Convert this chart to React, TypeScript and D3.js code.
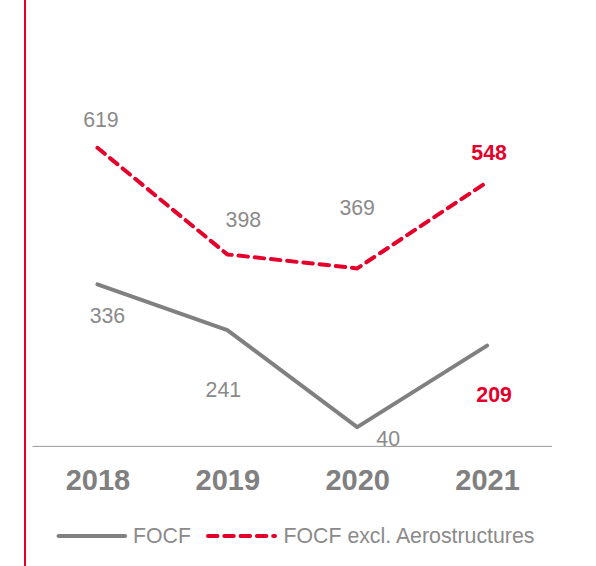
import React from "react";
import * as d3 from "d3";

const years = ["2018", "2019", "2020", "2021"];
const focf = [336, 241, 40, 209];
const focfExcl = [619, 398, 369, 548];
const legendLabels = ["FOCF", "FOCF excl. Aerostructures"];

// label offsets relative to points (px)
const exclOffsets: [number, number][] = [[3.5, -21], [16, -27], [0, -53.5], [2, -22]];
const focfOffsets: [number, number][] = [[10, 39], [-4, 67], [31, 19], [7, 56]];

const RED = "#e4002b";
const GRAY = "#808080";
const LABEL_GRAY = "#8a8a8a";
const FONT = "'Liberation Sans', Arial, sans-serif";

export default function App() {
  const W = 596, H = 566;
  const x = d3.scaleBand<string>().domain(years).range([32.5, 552]);
  const cx = (d: string) => (x(d) as number) + x.bandwidth() / 2;
  const y = d3.scaleLinear().domain([0, 700]).range([446.4, 446.4 - 700 * 0.4824]);
  const line = d3
    .line<number>()
    .x((_, i) => cx(years[i]))
    .y((v) => y(v));

  return (
    <svg width={W} height={H} style={{ position: "absolute", left: 0, top: 0, background: "#fff" }} fontFamily={FONT}>
      <line x1={25} x2={25} y1={0} y2={H} stroke={RED} strokeWidth={2} />
      <line x1={x.range()[0]} x2={x.range()[1]} y1={y(0)} y2={y(0)} stroke="#999" strokeWidth={1} />
      <path d={line(focf) || ""} fill="none" stroke={GRAY} strokeWidth={4} strokeLinejoin="round" strokeLinecap="round" />
      <path d={line(focfExcl) || ""} fill="none" stroke={RED} strokeWidth={4} strokeDasharray="9.5 6.8" strokeLinecap="round" strokeLinejoin="round" />
      {focfExcl.map((v, i) => {
        const last = i === years.length - 1;
        return (
          <text key={"e" + i} x={cx(years[i]) + exclOffsets[i][0]} y={y(v) + exclOffsets[i][1]} textAnchor="middle" fontSize={21.3} fill={last ? RED : LABEL_GRAY} fontWeight={last ? "bold" : "normal"}>
            {v}
          </text>
        );
      })}
      {focf.map((v, i) => {
        const last = i === years.length - 1;
        return (
          <text key={"f" + i} x={cx(years[i]) + focfOffsets[i][0]} y={y(v) + focfOffsets[i][1]} textAnchor="middle" fontSize={21.3} fill={last ? RED : LABEL_GRAY} fontWeight={last ? "bold" : "normal"}>
            {v}
          </text>
        );
      })}
      {years.map((d) => (
        <text key={d} x={cx(d) + 0.5} y={490} textAnchor="middle" fontSize={29} fontWeight="bold" fill={GRAY}>
          {d}
        </text>
      ))}
      <g>
        <line x1={58.5} x2={125} y1={536} y2={536} stroke={GRAY} strokeWidth={4} strokeLinecap="round" />
        <text x={133} y={542.7} fontSize={21.3} fill={LABEL_GRAY}>{legendLabels[0]}</text>
        <line x1={208} x2={275} y1={536} y2={536} stroke={RED} strokeWidth={4} strokeDasharray="9.5 6.8" strokeLinecap="round" />
        <text x={283.5} y={542.7} fontSize={21.3} fill={LABEL_GRAY}>{legendLabels[1]}</text>
      </g>
    </svg>
  );
}
